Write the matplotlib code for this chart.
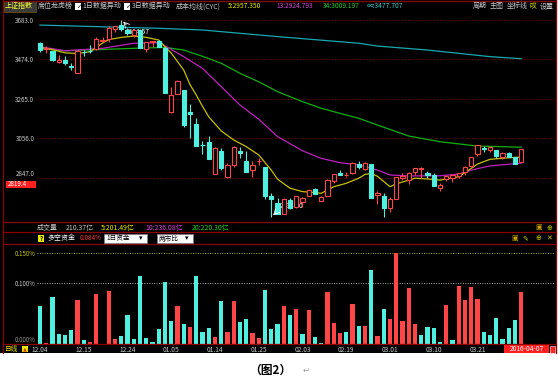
import matplotlib
matplotlib.use('Agg')
import matplotlib.pyplot as plt
from matplotlib.patches import Rectangle
from matplotlib.lines import Line2D

plt.rcParams['font.family'] = ['Noto Sans CJK SC', 'DejaVu Sans']

W, H = 558, 390

# daily K-line, 2015-12-04 .. 2016-03-30
opens = [3558, 3529, 3518, 3462, 3469, 3441, 3403, 3514, 3520, 3530,
         3573, 3583, 3634, 3654, 3627, 3602, 3627, 3528, 3566, 3570,
         3536, 3196, 3291, 3309, 3194, 3131, 3023, 3036, 2866, 2988,
         2853, 2916, 2988, 2934, 2890, 2935, 2903, 2751, 2712, 2658,
         2730, 2691, 2720, 2750, 2787, 2726, 2749, 2830, 2871, 2858,
         2874, 2922, 2896, 2918, 2757, 2750, 2689, 2733, 2846, 2837,
         2876, 2893, 2875, 2864, 2792, 2841, 2848, 2858, 2876, 2907,
         2971, 3006, 2996, 2993, 2958, 2978, 2955, 2931]
highs = [3568, 3543, 3518, 3495, 3489, 3456, 3521, 3523, 3547, 3593,
         3594, 3651, 3652, 3684, 3640, 3633, 3636, 3563, 3573, 3576,
         3538, 3328, 3362, 3309, 3236, 3166, 3043, 3068, 3011, 3004,
         2923, 3016, 3009, 2990, 2938, 2953, 2906, 2767, 2741, 2741,
         2738, 2749, 2748, 2787, 2793, 2753, 2840, 2868, 2888, 2878,
         2933, 2934, 2929, 2918, 2776, 2765, 2747, 2849, 2875, 2877,
         2900, 2902, 2884, 2870, 2821, 2861, 2866, 2875, 2908, 2959,
         3018, 3016, 3012, 2995, 2981, 2983, 2959, 3002]
lows = [3513, 3507, 3465, 3457, 3446, 3420, 3401, 3493, 3505, 3525,
        3570, 3568, 3616, 3626, 3601, 3594, 3532, 3514, 3538, 3538,
        3295, 3189, 3288, 3115, 3057, 3016, 2973, 2949, 2866, 2887,
        2845, 2906, 2952, 2880, 2851, 2916, 2735, 2638, 2654, 2656,
        2683, 2688, 2695, 2750, 2761, 2726, 2749, 2821, 2861, 2850,
        2869, 2893, 2886, 2742, 2710, 2638, 2666, 2733, 2836, 2812,
        2861, 2844, 2845, 2804, 2778, 2828, 2824, 2845, 2860, 2902,
        2964, 2985, 2983, 2954, 2948, 2955, 2919, 2931]
closes = [3524, 3536, 3470, 3472, 3455, 3435, 3520, 3510, 3516, 3580,
          3578, 3642, 3651, 3636, 3612, 3628, 3534, 3563, 3573, 3539,
          3296, 3287, 3361, 3125, 3186, 3016, 3022, 2949, 3007, 2901,
          2913, 3008, 2977, 2880, 2916, 2938, 2750, 2735, 2656, 2737,
          2689, 2749, 2739, 2782, 2763, 2746, 2837, 2867, 2862, 2860,
          2927, 2903, 2928, 2741, 2767, 2688, 2733, 2849, 2859, 2874,
          2897, 2901, 2863, 2805, 2810, 2859, 2864, 2870, 2904, 2955,
          3018, 2999, 3009, 2960, 2979, 2957, 2920, 3000]

# cost average lines (CYC), read at sample days
cyc5_day = [0, 2, 4, 6, 8, 10, 11, 13, 15, 17, 19, 20, 21, 23, 24, 25, 26, 27, 29,
            31, 33, 35, 37, 38, 40, 42, 44, 45, 47, 49, 51, 52, 53, 54, 56, 57,
            60, 62, 64, 67, 69, 70, 72, 75, 77]
cyc5_val = [3537, 3525, 3508, 3505, 3514, 3560, 3578, 3590, 3597, 3590, 3576, 3540,
            3507, 3417, 3340, 3285, 3225, 3170, 3095, 3047, 3012, 2968, 2888, 2840,
            2792, 2774, 2769, 2765, 2800, 2818, 2845, 2865, 2870, 2855, 2800, 2815,
            2845, 2841, 2835, 2853, 2897, 2920, 2945, 2953, 2957]
cyc13_day = [0, 4, 10, 15, 19, 20, 23, 26, 29, 32, 35, 38, 42, 45, 48, 51, 54, 56,
             59, 64, 67, 69, 72, 77]
cyc13_val = [3541, 3519, 3532, 3559, 3562, 3545, 3488, 3426, 3329, 3232, 3157, 3065,
             2990, 2950, 2927, 2915, 2888, 2862, 2857, 2858, 2867, 2888, 2910, 2925]
cyc34_day = [0, 4, 15, 20, 23, 26, 29, 32, 35, 38, 42, 45, 48, 51, 54, 59, 64, 70, 77]
cyc34_val = [3530, 3519, 3532, 3537, 3523, 3490, 3453, 3400, 3355, 3303, 3250, 3215,
             3188, 3162, 3126, 3068, 3038, 3015, 3009]
cycinf_day = [0, 19, 26, 38, 51, 54, 62, 72, 77]
cycinf_val = [3655, 3638, 3629, 3594, 3559, 3544, 3523, 3488, 3477]

price_ticks = [3683.0, 3474.0, 3265.0, 3056.0, 2847.0]

# long/short money flow, % (0 on 12.18)
flow = [0.063, 0.001, 0.078, 0.0156, 0.014, 0.022, 0.073, 0.0056, 0.0033, 0.083,
        0.0, 0.087, 0.0078, 0.0128, 0.047, 0.0078, 0.113, 0.0094, 0.002, 0.024,
        0.103, 0.038, 0.063, 0.033, 0.027, 0.112, 0.019, 0.026, 0.011, 0.0706,
        0.019, 0.0706, 0.036, 0.041, 0.017, 0.0094, 0.089, 0.024, 0.033, 0.063,
        0.047, 0.058, 0.0156, 0.056, 0.0117, 0.001, 0.085, 0.034, 0.018, 0.019,
        0.066, 0.030, 0.029, 0.123, 0.012, 0.058, 0.041, 0.150, 0.037, 0.093,
        0.032, 0.0144, 0.028, 0.026, 0.003, 0.064, 0.0056, 0.096, 0.072, 0.094,
        0.074, 0.020, 0.014, 0.042, 0.0072, 0.026, 0.039, 0.085]
flow_in = [0, 1, 0, 0, 0, 0, 1, 0, 1, 1,
           1, 1, 1, 0, 0, 0, 0, 0, 0, 0,
           0, 0, 1, 0, 1, 0, 0, 0, 1, 0,
           1, 1, 0, 0, 1, 1, 0, 0, 0, 1,
           0, 1, 0, 1, 0, 0, 1, 1, 1, 0,
           1, 0, 1, 0, 1, 0, 1, 1, 1, 1,
           1, 0, 0, 0, 0, 1, 0, 1, 1, 1,
           1, 0, 0, 0, 0, 0, 0, 1]

date_pos = [0, 7, 14, 21, 28, 35, 42, 49, 56, 63, 70]
date_labels = ['12.04', '12.15', '12.24', '01.05', '01.14', '01.25',
               '02.03', '02.19', '03.01', '03.10', '03.21']

RED = '#FF4545'
CYAN = '#50F0E0'
FRAME = '#8C0000'
GREY = '#C8C8C8'
CJK = 5.0
NUM = 4.8

fig = plt.figure(figsize=(W / 100, H / 100), dpi=100)
fig.patch.set_facecolor('white')


def fy(y):
    return 1 - y / H


def add_ax(left, top, right, bottom):
    a = fig.add_axes([left / W, fy(bottom), (right - left) / W, (bottom - top) / H])
    a.patch.set_visible(False)
    for s in a.spines.values():
        s.set_visible(False)
    return a


def ftext(x, y, s, **kw):
    kw.setdefault('va', 'center')
    kw.setdefault('fontsize', CJK)
    return fig.text(x / W, fy(y), s, **kw)


def fline(x0, y0, x1, y1, **kw):
    fig.add_artist(Line2D([x0 / W, x1 / W], [fy(y0), fy(y1)], transform=fig.transFigure, **kw))


def fbox(x0, y0, x1, y1, **kw):
    fig.add_artist(Rectangle((x0 / W, fy(y1)), (x1 - x0) / W, (y1 - y0) / H,
                             transform=fig.transFigure, **kw))


# black terminal background and frame
fbox(0, 0, 556, 353, facecolor='black', edgecolor='none', zorder=0)
for yy in [0.5, 222, 232, 244, 344.3]:
    fline(3, yy, 555.5, yy, color=FRAME, lw=0.9)
fline(3, 0, 3, 353, color=FRAME, lw=0.9)
fline(555.5, 0, 555.5, 353, color=FRAME, lw=0.9)

# ---- main K-line panel
ax = add_ax(37, 12, 555, 222)
ax.set_xlim(-0.48, 82.4)
ax.set_ylim(2613.3, 3724.2)
ax.set_xticks([])
ax.set_yticks(price_ticks, ['%.1f' % p for p in price_ticks])
ax.tick_params(axis='y', length=0, pad=2, labelsize=4.5, labelcolor=GREY)
ax.get_yticklabels()[-1].set_verticalalignment('bottom')
for p in price_ticks:
    ax.axhline(p, color=FRAME, lw=0.7, ls=(0, (1, 2)), zorder=1)

for i in range(len(opens)):
    o, h, l, c = opens[i], highs[i], lows[i], closes[i]
    up = c >= o
    col = RED if up else CYAN
    lo_b, hi_b = min(o, c), max(o, c)
    ax.vlines(i, l, lo_b, color=col, lw=0.8, zorder=3)
    ax.vlines(i, hi_b, h, color=col, lw=0.8, zorder=3)
    if hi_b - lo_b < 4:
        ax.hlines(c, i - 0.35, i + 0.35, color=col, lw=0.9, zorder=3)
    else:
        ax.add_patch(Rectangle((i - 0.34, lo_b), 0.68, hi_b - lo_b,
                               facecolor='black' if up else col, edgecolor=col,
                               lw=0.8, zorder=4))

ax.plot(cycinf_day, cycinf_val, color='#18A8B0', lw=0.9, zorder=2)
ax.plot(cyc34_day, cyc34_val, color='#10B010', lw=0.9, zorder=2)
ax.plot(cyc13_day, cyc13_val, color='#C020C0', lw=0.9, zorder=2)
ax.plot(cyc5_day, cyc5_val, color='#C8C000', lw=0.9, zorder=2)

hi_i = highs.index(max(highs))
lo_i = lows.index(min(lows))
ax.annotate('', xy=(hi_i, highs[hi_i]), xytext=(hi_i + 1.1, highs[hi_i] - 38),
            arrowprops=dict(arrowstyle='->', color='white', lw=0.6), zorder=5)
ax.text(hi_i + 0.8, highs[hi_i] - 66, '%.2f' % 3684.57, color='white', fontsize=NUM,
        va='center', zorder=2)
ax.annotate('', xy=(lo_i, lows[lo_i]), xytext=(lo_i + 1.0, lows[lo_i] + 35),
            arrowprops=dict(arrowstyle='->', color='white', lw=0.6), zorder=5)
ax.text(lo_i + 1.4, lows[lo_i] + 60, '%.2f' % 2638.30, color='white', fontsize=NUM,
        va='center', zorder=2)

# current price tag
fbox(6, 180.6, 36, 188, facecolor='#FF2020', edgecolor='none', zorder=5)
ftext(8, 184.4, '2819.4', color='white', fontsize=4.5, zorder=6)

# ---- title bar
fbox(3.5, 1, 36, 11.5, facecolor='#3A3A3A', edgecolor='#6A5000', lw=0.6, zorder=1)
ftext(5, 6.3, '上证指数', color='#FFFF30')
ftext(38, 6.3, '席位龙虎榜', color=GREY)
for bx, label in [(75, '1日数据异动'), (124, '3日数据异动')]:
    fbox(bx, 3, bx + 6, 9.5, facecolor='white', edgecolor='none', zorder=2)
    ftext(bx + 0.6, 6.4, '✓', color='black', fontsize=4.5, family='DejaVu Sans', zorder=3)
    ftext(bx + 7.5, 6.3, label, color=GREY)
ftext(176, 6.3, '成本均线(CYC)', color=GREY)
ftext(228, 6.3, '5:2957.350', color='#E8E800', fontsize=NUM)
ftext(276, 6.3, '13:2924.793', color='#E040E0', fontsize=NUM)
ftext(323, 6.3, '34:3009.197', color='#20D020', fontsize=NUM)
ftext(367, 6.3, '∞:3477.707', color='#30C8D0', fontsize=NUM)
ftext(473, 6.3, '周期', color=GREY)
ftext(490, 6.3, '主图', color=GREY)
ftext(507, 6.3, '坐标线', color=GREY)
ftext(530, 6.3, '叹', color='#E8E800')
ftext(540, 6.3, '设置', color=GREY)

# ---- volume line
ftext(37, 227.5, '成交量', color=GREY)
ftext(66, 227.5, '210.37亿', color=GREY)
ftext(101, 227.5, '5:201.49亿', color='#E8E800')
ftext(145, 227.5, '10:236.08亿', color='#E040E0')
ftext(192, 227.5, '20:220.30亿', color='#20D020')
ftext(535, 227.5, '▣', color='#C8A000', fontsize=5, family='DejaVu Sans')
ftext(546, 227.5, '⊕', color='#C8C800', fontsize=5, family='DejaVu Sans')

# ---- money flow header
fbox(38, 235, 44, 241.5, facecolor='#E8E800', edgecolor='none', zorder=2)
ftext(39.4, 238.3, '?', color='black', fontsize=4.5, fontweight='bold', zorder=3)
ftext(47, 238.3, '多空资金', color='white')
ftext(80, 238.3, '0.084%', color='#FF3030', fontsize=4.6)
for bx0, bx1, label in [(104, 147, '1日资金'), (157, 193, '两市比')]:
    fbox(bx0, 234, bx1, 243, facecolor='white', edgecolor='#808080', lw=0.5, zorder=2)
    ftext(bx0 + 2, 238.5, label, color='black', fontsize=4.8, zorder=3)
    ftext(bx1 - 8, 238.5, '▾', color='black', fontsize=5, family='DejaVu Sans', zorder=3)
ftext(511, 238.3, '▣', color='#C8A000', fontsize=5, family='DejaVu Sans')
ftext(522, 238.3, '✎', color='#C8C800', fontsize=5, family='DejaVu Sans')
ftext(535, 238.3, '⊕', color='#C8C800', fontsize=5, family='DejaVu Sans')
ftext(546, 238.3, '✕', color='#C8C800', fontsize=5, family='DejaVu Sans')

# ---- money flow panel
ax2 = add_ax(37, 244, 555, 344.3)
ax2.set_xlim(-0.48, 82.4)
ax2.set_ylim(-0.001, 0.1654)
ax2.bar(range(len(flow)), flow, width=0.66,
        color=[RED if f else CYAN for f in flow_in], edgecolor='none', zorder=3)
ax2.axhline(0.15, color='#B0B000', lw=0.7, ls=(0, (1, 1.5)), zorder=1)
ax2.axhline(0.10, color='#B0B0B0', lw=0.7, ls=(0, (1, 1.5)), zorder=1)
ax2.set_yticks([0.15, 0.10, 0.0], ['0.150%', '0.100%', '0.000%'])
ax2.tick_params(axis='y', length=0, pad=1, labelsize=4.4)
for t, c in zip(ax2.get_yticklabels(), ['#C8C800', GREY, '#909090']):
    t.set_color(c)
ax2.get_yticklabels()[-1].set_verticalalignment('bottom')
ax2.set_xticks(date_pos, date_labels)
ax2.tick_params(axis='x', length=0, pad=1.5, labelsize=4.8, labelcolor=GREY)

# bottom status
ftext(5, 349.3, '日线', color='#E8E800', fontsize=4.8)
fbox(21.5, 345.8, 28, 352.3, facecolor='#E8E800', edgecolor='none', zorder=2)
ftext(22.6, 349.1, '▲', color='#E03000', fontsize=3.6, family='DejaVu Sans', zorder=3)
fbox(504, 344.8, 549, 353, facecolor='#FF2020', edgecolor='none', zorder=2)
ftext(526.5, 349, '2016-04-07', color='white', fontsize=4.8, ha='center', zorder=3)
fbox(549.5, 345.5, 555, 352.5, facecolor='#FF2020', edgecolor='white', lw=0.4, zorder=2)

# caption
ftext(270, 370, '（图2）', color='black', fontsize=8.5, fontweight='bold', ha='center')
ftext(303, 370, '↵', color='#A0A0A0', fontsize=6, family='DejaVu Sans')

fig.savefig('out.png', dpi=100, facecolor='white')
